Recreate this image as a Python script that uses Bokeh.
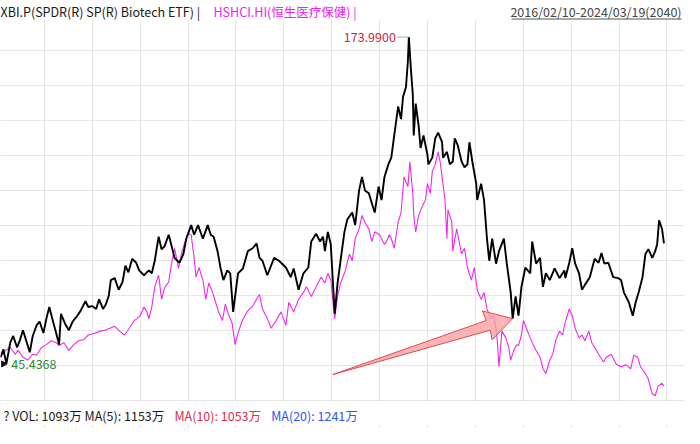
from bokeh.plotting import figure
from bokeh.models import Range1d, Label, BoxAnnotation, FixedTicker
from bokeh.core.properties import value
from bokeh.embed import file_html
from bokeh.resources import INLINE

# ---------------- data (trading-day index since 2016/02/10, close) ----------------
xbi_day = [0, 9, 18, 30, 39, 51, 60, 69, 81, 90, 99, 111, 120, 132, 141, 150, 159, 171, 180, 186,
           198, 210, 222, 234, 246, 261, 270, 282, 294, 303, 315, 324, 333, 339, 351, 363, 375, 384, 393, 405,
           417, 426, 441, 456, 465, 474, 486, 495, 504, 517, 526, 535, 550, 562, 571, 586, 595, 607, 622, 637,
           646, 655, 667, 676, 685, 697, 706, 715, 721, 730, 745, 760, 775, 787, 796, 805, 820, 841, 856, 877,
           892, 901, 916, 931, 946, 955, 970, 982, 991, 997, 1006, 1015, 1027, 1036, 1045, 1057, 1066, 1081, 1090, 1102,
           1111, 1120, 1132, 1141, 1150, 1162, 1171, 1180, 1192, 1201, 1210, 1222, 1231, 1237, 1246, 1252, 1255, 1261, 1267, 1270,
           1276, 1285, 1291, 1300, 1312, 1315, 1327, 1336, 1345, 1357, 1360, 1372, 1381, 1390, 1396, 1405, 1417, 1426, 1435, 1441,
           1450, 1462, 1465, 1477, 1486, 1495, 1502, 1511, 1523, 1532, 1547, 1556, 1568, 1574, 1583, 1592, 1601, 1613, 1628, 1634,
           1646, 1658, 1667, 1676, 1688, 1703, 1718, 1733, 1736, 1748, 1757, 1766, 1778, 1787, 1796, 1811, 1826, 1838, 1847, 1856,
           1868, 1883, 1898, 1907, 1916, 1931, 1943, 1952, 1961, 1973, 1982, 1991, 2003, 2012, 2018, 2024, 2033, 2039]
xbi_close = [48.09, 51.12, 45.4368, 53.78, 56.43, 51.88, 54.92, 58.71, 53.78, 49.99, 56.43, 60.60, 62.12, 57.57, 63.26, 67.81, 63.26, 57.57, 53.02, 65.15,
             61.36, 58.71, 62.12, 64.02, 66.29, 70.08, 67.81, 68.19, 67.05, 70.84, 67.05, 68.95, 72.36, 78.43, 79.19, 74.63, 77.67, 84.11, 81.46, 86.77,
             85.25, 82.22, 80.32, 82.22, 81.08, 86.01, 95.49, 90.56, 91.70, 96.25, 91.70, 87.15, 85.25, 88.67, 94.73, 100.04, 96.25, 100.04, 94.73, 100.04,
             96.25, 95.49, 89.80, 83.36, 78.43, 82.22, 81.08, 65.91, 71.98, 81.08, 82.98, 89.80, 90.94, 92.84, 87.15, 86.01, 80.32, 87.15, 86.01, 83.36,
             79.56, 82.98, 74.63, 81.08, 83.36, 93.60, 96.63, 93.60, 95.49, 89.80, 97.39, 92.46, 65.15, 77.29, 86.01, 97.39, 102.32, 104.97, 100.04, 113.69,
             119.00, 113.69, 112.56, 108.76, 104.97, 115.21, 109.90, 119.00, 123.93, 126.59, 135.31, 146.69, 141.76, 150.48, 154.27, 164.51, 173.99, 161.85, 151.62, 135.31,
             147.82, 139.10, 130.38, 135.31, 127.72, 123.93, 126.59, 134.17, 136.45, 132.65, 126.59, 128.86, 123.93, 125.07, 134.17, 131.52, 125.07, 122.80, 123.93, 132.65,
             125.07, 116.35, 109.90, 116.35, 109.90, 94.73, 86.01, 94.73, 84.87, 89.80, 94.73, 84.87, 73.50, 63.26, 71.98, 64.40, 75.77, 83.36, 81.08, 93.60,
             84.87, 87.15, 75.77, 81.08, 78.43, 82.98, 79.19, 82.22, 79.19, 85.25, 90.94, 84.87, 81.08, 74.63, 76.53, 79.56, 86.77, 85.25, 89.04, 84.87,
             85.25, 79.56, 79.19, 78.43, 73.50, 69.70, 64.40, 69.70, 73.50, 79.56, 88.67, 90.56, 87.15, 89.80, 92.46, 101.94, 98.53, 92.84]

hshci_day = [0, 15, 30, 45, 54, 69, 84, 99, 111, 126, 141, 156, 171, 180, 195, 210, 225, 240, 255, 270,
             291, 306, 321, 336, 351, 366, 381, 396, 411, 420, 429, 441, 450, 456, 465, 474, 486, 495, 504, 517,
             526, 535, 547, 556, 565, 577, 586, 595, 601, 610, 622, 631, 640, 652, 661, 670, 682, 691, 700, 712,
             721, 730, 742, 751, 760, 775, 787, 796, 805, 820, 832, 847, 862, 877, 886, 901, 916, 931, 940, 955,
             970, 985, 997, 1006, 1015, 1027, 1036, 1045, 1060, 1072, 1081, 1090, 1102, 1111, 1120, 1132, 1141, 1150, 1165, 1180,
             1186, 1195, 1201, 1210, 1222, 1231, 1240, 1252, 1258, 1267, 1270, 1276, 1285, 1297, 1306, 1312, 1321, 1327, 1336, 1345,
             1351, 1357, 1366, 1372, 1375, 1387, 1390, 1402, 1417, 1426, 1435, 1447, 1456, 1465, 1477, 1486, 1495, 1508, 1517, 1526,
             1532, 1541, 1553, 1562, 1568, 1577, 1586, 1592, 1601, 1607, 1616, 1628, 1637, 1646, 1658, 1667, 1676, 1688, 1697, 1706,
             1718, 1727, 1736, 1748, 1757, 1766, 1778, 1787, 1796, 1808, 1817, 1826, 1838, 1853, 1862, 1877, 1892, 1907, 1922, 1937,
             1946, 1958, 1967, 1982, 1991, 2003, 2012, 2021, 2033, 2039]
hshci_rebased = [48.09, 50.74, 51.88, 49.23, 50.74, 48.09, 46.95, 49.23, 48.85, 51.88, 53.02, 54.54, 53.78, 52.64, 53.78, 50.74, 53.02, 54.54, 54.92, 56.81,
                 57.57, 58.33, 58.71, 59.47, 60.22, 58.33, 56.81, 59.47, 62.50, 63.26, 64.40, 67.81, 65.91, 63.26, 67.81, 75.77, 80.32, 70.84, 75.39, 77.67,
                 85.25, 90.94, 82.98, 88.67, 92.84, 96.63, 96.25, 87.15, 79.56, 83.36, 78.43, 70.84, 77.29, 73.50, 69.70, 65.91, 62.50, 68.95, 65.15, 61.36,
                 53.02, 57.57, 62.12, 64.40, 66.29, 68.19, 70.84, 72.74, 67.05, 63.26, 59.47, 62.50, 65.91, 60.60, 69.70, 65.91, 70.84, 73.50, 75.77, 71.98,
                 75.77, 79.56, 77.29, 81.08, 78.43, 63.26, 71.98, 77.29, 82.22, 88.67, 86.01, 94.73, 98.53, 103.83, 101.18, 98.53, 93.60, 97.39, 96.25, 92.46,
                 93.60, 96.25, 94.73, 90.94, 101.18, 104.97, 119.00, 115.21, 125.07, 112.56, 103.83, 97.39, 103.83, 107.63, 109.90, 116.35, 112.56, 121.28, 123.93, 128.86,
                 125.07, 119.00, 109.90, 94.73, 106.11, 101.18, 89.80, 98.53, 88.67, 90.94, 83.36, 78.43, 83.36, 74.63, 70.84, 73.50, 67.05, 63.26, 64.40, 55.67,
                 44.30, 58.33, 55.67, 51.88, 46.95, 50.74, 53.02, 52.64, 56.81, 62.50, 59.47, 55.67, 53.02, 50.74, 48.09, 43.54, 41.64, 46.95, 49.23, 54.54,
                 58.33, 56.81, 62.12, 67.05, 64.40, 59.47, 55.67, 56.81, 54.54, 58.33, 53.78, 51.88, 49.23, 46.19, 48.09, 49.23, 45.43, 44.30, 45.06, 43.54,
                 48.85, 48.09, 44.30, 41.64, 39.37, 33.68, 32.92, 36.71, 37.85, 36.71]

title_left = "XBI.P(SPDR(R) SP(R) Biotech ETF) |"
title_mid = "HSHCI.HI(恒生医疗保健) |"
date_span = "2016/02/10-2024/03/19(2040)"
footer_texts = ["? VOL: 1093万 MA(5): 1153万", "MA(10): 1053万", "MA(20): 1241万"]

# ---------------- layout helpers (reference pixel -> data) ----------------
REF_W, REF_H = 700, 444
W, H = 684, 428
DAYS_PER_PX = 2039 / 679
PRICE_TOP = 188.40
PRICE_PER_PX = 0.37922


def dx(px):
    return px * DAYS_PER_PX


def dy(py):
    return PRICE_TOP - py * PRICE_PER_PX


FONT = "Noto Sans CJK SC"

p = figure(width=W, height=H, output_backend="svg", toolbar_location=None,
           x_range=Range1d(dx(0), dx(REF_W)), y_range=Range1d(dy(REF_H), dy(0)),
           x_axis_location=None, y_axis_location=None, min_border=0,
           outline_line_color=None, background_fill_color="white",
           border_fill_color="white", title=None)

p.xgrid.ticker = FixedTicker(ticks=[dx(45 + 49 * k) for k in range(14)])
p.ygrid.ticker = FixedTicker(ticks=[dy(414.5 - 36.3 * k) for k in range(11)])
for g in (p.xgrid, p.ygrid):
    g.grid_line_color = "#e6e6e6"
    g.grid_line_width = 1

# series
p.line(hshci_day, hshci_rebased, line_color="#f028f0", line_width=1.1)
p.line(xbi_day, xbi_close, line_color="#000000", line_width=1.9)

# header / footer bands
p.add_layout(BoxAnnotation(left=dx(0), right=dx(REF_W), top=dy(0), bottom=dy(20),
                           fill_color="white", fill_alpha=1, line_color=None))
p.add_layout(BoxAnnotation(left=dx(0), right=dx(REF_W), top=dy(416), bottom=dy(440.5),
                           fill_color="white", fill_alpha=1, line_color=None))

# arrow annotation pointing at the 2022 low
post = [i for i, d in enumerate(xbi_day) if d > 1500 and d < 1620]
tip_i = min(post, key=lambda i: xbi_close[i])
tip_x, tip_y = xbi_day[tip_i], xbi_close[tip_i]
arrow_px = [(-184, 58), (-27, 2), (-31, -8), (0, 0), (-21, 22), (-23, 12)]
ax = [tip_x + ox * DAYS_PER_PX for ox, oy in arrow_px]
ay = [tip_y - oy * PRICE_PER_PX for ox, oy in arrow_px]
p.patch(ax, ay, fill_color="#f7a3a3", fill_alpha=0.8, line_color="#e5484d", line_width=1)

# max / min markers
imax = max(range(len(xbi_close)), key=lambda i: xbi_close[i])
imin = min(range(len(xbi_close)), key=lambda i: xbi_close[i])
mx, my = xbi_day[imax], xbi_close[imax]
p.segment(x0=[mx - 12 * DAYS_PER_PX], y0=[my], x1=[mx], y1=[my], line_color="#6cc4c4", line_width=1)
p.add_layout(Label(x=mx, y=my, x_offset=-13, text=f"{my:.4f}", text_align="right",
                   text_baseline="middle", text_font=FONT, text_font_size="12.5px",
                   text_color="#d0263c"))
nx, ny = xbi_day[imin], xbi_close[imin]
p.scatter([nx - 3 * DAYS_PER_PX], [ny], marker="triangle", angle=-1.5708, size=6,
          fill_color="#111111", line_color="#111111")
p.add_layout(Label(x=nx, y=ny, x_offset=5, text=f"{ny:.4f}", text_align="left",
                   text_baseline="middle", text_font=FONT, text_font_size="12.5px",
                   text_color="#2f8a2f"))

# header texts
p.add_layout(Label(x=dx(0), y=dy(11), text=title_left, text_align="left", text_baseline="middle",
                   text_font=FONT, text_font_size="12.5px", text_color="#1a1a1a"))
p.add_layout(Label(x=dx(218), y=dy(11), text=title_mid, text_align="left", text_baseline="middle",
                   text_font=FONT, text_font_size="12.5px", text_color="#f020f0"))
p.add_layout(Label(x=dx(697), y=dy(11), text=date_span, text_align="right", text_baseline="middle",
                   text_font=FONT, text_font_size="12.5px", text_color="#444444"))
p.add_layout(BoxAnnotation(left=dx(523), right=dx(697), top=dy(18.6), bottom=dy(19.6),
                           fill_color="#555555", fill_alpha=1, line_color=None))

# footer texts
for txt, xpx, col in zip(footer_texts, [3, 178, 277], ["#1a1a1a", "#e0304a", "#3355e6"]):
    p.add_layout(Label(x=dx(xpx), y=dy(431), text=txt, text_align="left", text_baseline="middle",
                       text_font=FONT, text_font_size="12.5px", text_color=col))

open("out.html", "w").write(file_html(p, INLINE))
